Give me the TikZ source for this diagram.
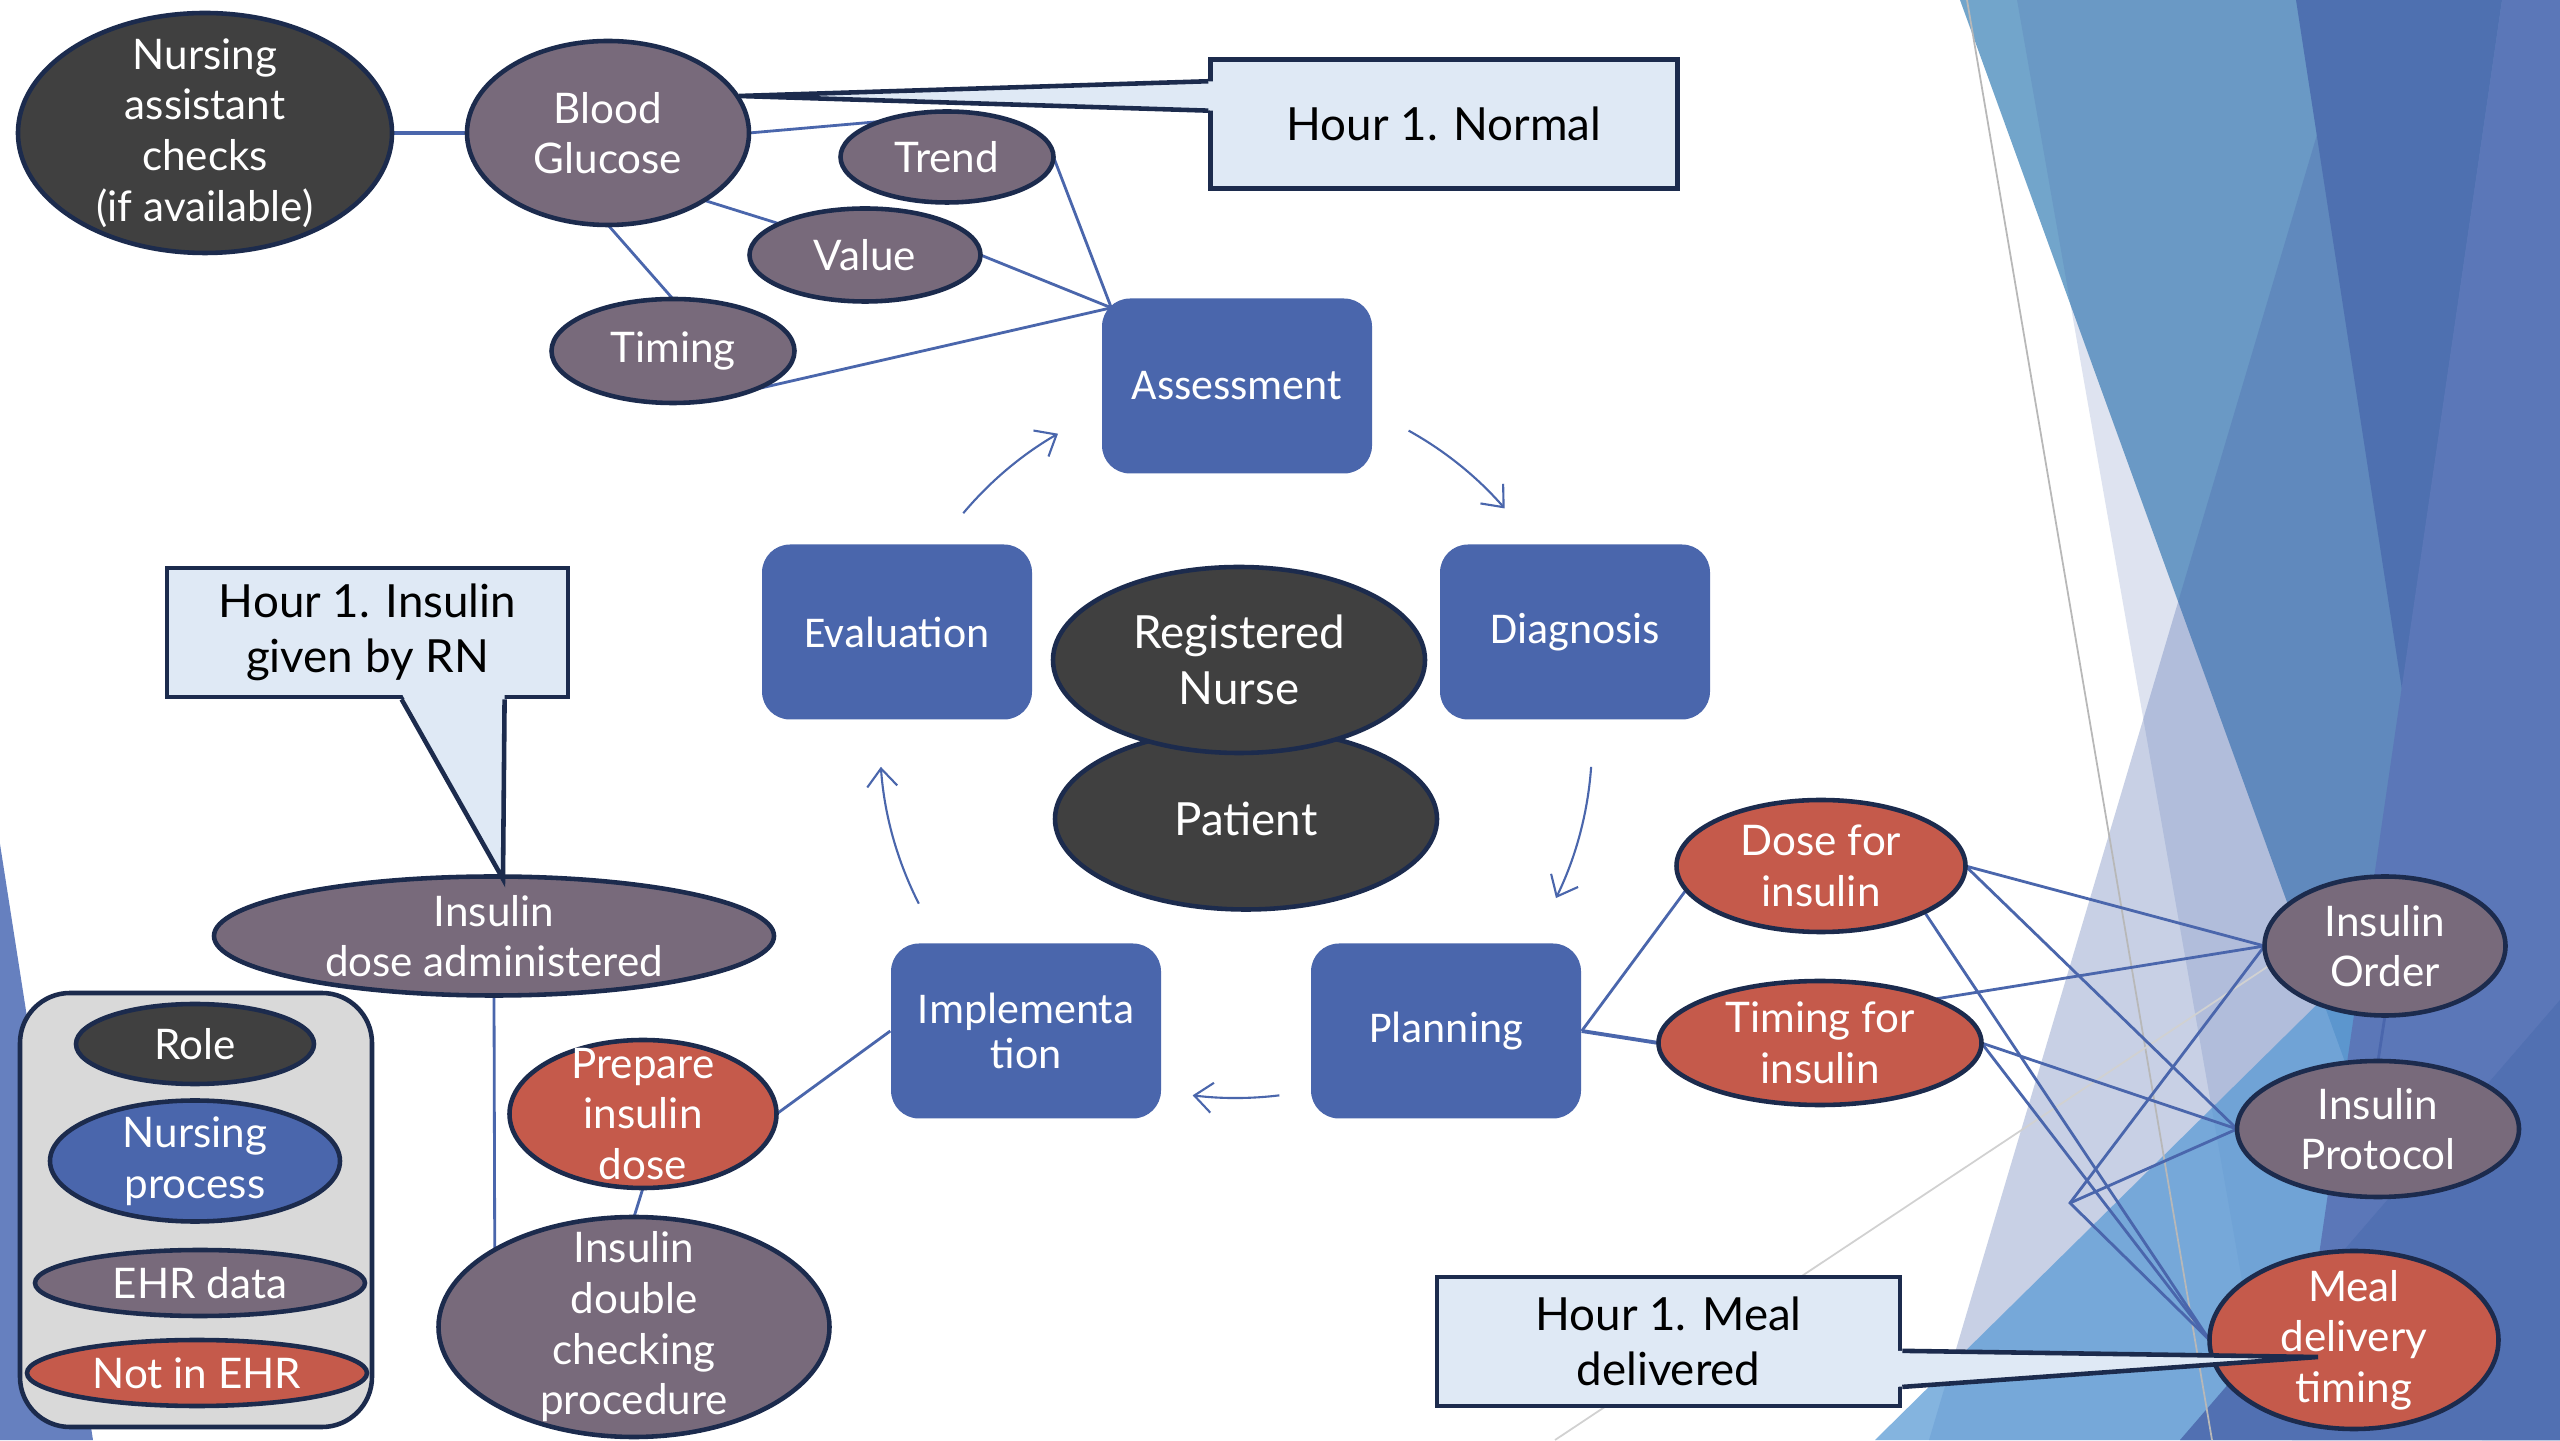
\documentclass[tikz,border=0pt]{standalone}
\usepackage{fontspec}
\setmainfont{Lato}
\newfontfamily\boxfont{Carlito}
\usetikzlibrary{arrows.meta,positioning,calc,shapes.geometric}
\definecolor{navy}{HTML}{1C2B4D}
\definecolor{procblue}{HTML}{4A66AC}
\definecolor{rolegray}{HTML}{404040}
\definecolor{ehrmauve}{HTML}{786A7B}
\definecolor{notred}{HTML}{C55A4B}
\definecolor{calfill}{HTML}{DFE9F5}
\definecolor{legfill}{HTML}{D9D9D9}
\definecolor{facetsteel}{HTML}{72A5CB}
\definecolor{facetdark}{HTML}{4E70B0}
\definecolor{facetmid}{HTML}{5B77B8}
\definecolor{facetsky}{HTML}{5B9BD5}
\definecolor{facetdeep}{HTML}{5170B2}
\definecolor{facetleft}{HTML}{6680BF}
\pgfdeclarelayer{deco}
\pgfdeclarelayer{links}
\pgfsetlayers{deco,links,main}

\begin{document}
\begin{tikzpicture}[>={Straight Barb[length=1.8mm,width=3mm]},
  blob/.style={ellipse,draw=navy,line width=1.3pt,text=white,align=center,inner sep=-1.5cm,outer sep=0pt,font=\fontsize{12}{14.4}\selectfont},
  sz/.style 2 args={minimum width=#1cm,minimum height=#2cm},
  role/.style={blob,fill=rolegray},
  ehr/.style={blob,fill=ehrmauve},
  noehr/.style={blob,fill=notred},
  nproc/.style={blob,fill=procblue},
  bigtext/.style={font=\fontsize{13}{15.8}\selectfont},
  stage/.style={rectangle,rounded corners=0.28cm,fill=procblue,text=white,align=center,minimum width=2.7cm,minimum height=1.75cm,font=\boxfont\fontsize{12.5}{13}\selectfont},
  calbox/.style={rectangle,fill=calfill,draw=navy,line width=1.3pt,align=center,minimum height=1.29cm,font=\fontsize{13}{15.8}\selectfont},
  pointer/.style={draw=navy,line width=1.3pt,line join=miter},
  link/.style={draw=procblue,line width=0.8pt},
  cyclearrow/.style={draw=procblue,line width=0.6pt,->},
]
\useasboundingbox (0,0) rectangle (25.6,14.4);

% slide background
\begin{pgfonlayer}{deco}
\fill[white] (0,0) rectangle (25.6,14.4);
\fill[facetleft] (0,5.96) -- (0.93,0) -- (0,0) -- cycle;
\fill[facetsteel] (19.60,14.4) -- (25.6,14.4) -- (25.6,0) -- (24.82,0) -- cycle;
\fill[procblue,opacity=0.18] (20.17,14.4) -- (25.6,14.4) -- (25.6,0) -- (22.70,0) -- cycle;
\fill[procblue,opacity=0.3] (23.57,14.4) -- (25.6,14.4) -- (25.6,0) -- (19.29,0) -- cycle;
\fill[facetdark] (22.96,14.4) -- (25.02,14.4) -- (24.02,7.5) -- cycle;
\fill[facetsky,opacity=0.75] (18.75,0) -- (25.6,6.75) -- (25.6,0) -- cycle;
\fill[facetmid] (25.02,14.4) -- (25.6,14.4) -- (25.6,0) -- (22.92,0) -- cycle;
\fill[facetdeep] (21.80,0) -- (25.6,4.4) -- (25.6,0) -- cycle;
\draw[black!28,line width=0.5pt] (19.67,14.4) -- (22.12,0);
\draw[black!18,line width=0.5pt] (15.55,0) -- (22.70,4.75);
\end{pgfonlayer}

% assessment data
\node[role,sz={3.74}{2.40}] (nac) at (2.05,13.07) {Nursing\\assistant\\checks\\(if available)};
\node[ehr,sz={2.82}{1.84}] (bg) at (6.08,13.07) {Blood\\Glucose};
\node[ehr,sz={2.13}{0.91}] (trend) at (9.47,12.83) {Trend};
\node[ehr,sz={2.31}{0.93}] (value) at (8.65,11.85) {Value};
\node[ehr,sz={2.43}{1.04}] (timing) at (6.73,10.89) {Timing};

% nursing process
\node[stage] (assess) at (12.37,10.54) {Assessment};
\node[stage] (diag) at (15.75,8.08) {Diagnosis};
\node[stage] (plan) at (14.46,4.09) {Planning};
\node[stage] (impl) at (10.26,4.09) {Implementa\\tion};
\node[stage] (eval) at (8.97,8.08) {Evaluation};
\coordinate (hub) at (12.36,6.98);

\node[role,bigtext,sz={3.82}{1.81}] (pat) at (12.46,6.21) {Patient};
\node[role,bigtext,sz={3.72}{1.86}] (rn) at (12.39,7.80) {Registered\\Nurse};

% planning data
\node[noehr,sz={2.89}{1.32}] (dose) at (18.21,5.74) {Dose for\\insulin};
\node[noehr,sz={3.23}{1.24}] (tfi) at (18.20,3.97) {Timing for\\insulin};
\node[ehr,sz={2.41}{1.39}] (order) at (23.85,4.94) {Insulin\\Order};
\node[ehr,sz={2.82}{1.36}] (proto) at (23.78,3.11) {Insulin\\Protocol};
\node[noehr,sz={2.89}{1.78}] (meal) at (23.54,1.00) {Meal\\delivery\\timing};
\coordinate (bend) at (20.70,2.37);

% implementation data
\node[ehr,sz={5.60}{1.19}] (ida) at (4.94,5.04) {Insulin\\dose administered};
\node[noehr,sz={2.67}{1.48}] (prep) at (6.43,3.26) {Prepare\\insulin\\dose};
\node[ehr,sz={3.91}{2.20}] (idc) at (6.34,1.13) {Insulin\\double\\checking\\procedure};

% legend
\node[draw=navy,line width=1.3pt,fill=legfill,rounded corners=0.5cm,minimum width=3.52cm,minimum height=4.34cm] (legend) at (1.96,2.30) {};
\node[role,sz={2.38}{0.80}] (lrole) at (1.95,3.96) {Role};
\node[nproc,sz={2.90}{1.21}] (lproc) at (1.95,2.79) {Nursing\\process};
\node[ehr,sz={3.30}{0.66}] (lehr) at (2.00,1.57) {EHR data};
\node[noehr,sz={3.40}{0.66}] (lnot) at (1.97,0.67) {Not in EHR};

\begin{pgfonlayer}{links}
\draw[link,line width=1.3pt] (nac.east) -- (bg.west);
\draw[link] (bg.east) -- (trend.152);
\draw[link] (bg.-35) -- (value.160);
\draw[link] (bg.south) -- (timing.north);
\draw[link] (trend.east) -- ([shift={(0.1,-0.1)}]assess.north west);
\draw[link] (value.east) -- ([shift={(0.1,-0.1)}]assess.north west);
\draw[link] (timing.-25) -- ([shift={(0.1,-0.1)}]assess.north west);
\draw[link] (plan.east) -- (dose.190);
\draw[link,line width=1.1pt] (plan.east) -- (tfi.west);
\draw[link] (impl.west) -- (prep.east);
\draw[link] (prep.south) -- (idc.north);
\draw[link] (ida.south) -- (idc.151);
\draw[link] (dose.east) -- (order.west);
\draw[link] (dose.east) -- (proto.west);
\draw[link] (dose.-24) -- (meal.west);
\draw[link] (tfi.21) -- (order.west);
\draw[link] (tfi.east) -- (proto.west);
\draw[link] (tfi.east) -- (meal.west);
\draw[link] (order.west) -- (bend) -- (meal.west);
\draw[link] (proto.west) -- (bend);
\draw[link] (order.south) -- (proto.north);
\end{pgfonlayer}

% cycle arrows
\foreach \a/\b in {140/120,61/41,-4/-26,-83/-97,-153/-176}
  \draw[cyclearrow] ([shift={(\a:3.56)}]hub) arc[start angle=\a,end angle=\b,radius=3.56];

% callouts
\node[calbox,minimum width=4.67cm] (hnorm) at (14.44,13.16) {Hour 1. Normal};
\coordinate (hnormtip) at (7.39,13.44);
\coordinate (hn1) at ($(hnorm.north west)!0.18!(hnorm.south west)$);
\coordinate (hn2) at ($(hnorm.north west)!0.40!(hnorm.south west)$);
\fill[calfill] (hnormtip) -- ([xshift=0.06cm]hn1) -- ([xshift=0.06cm]hn2) -- cycle;
\draw[pointer] (hn1) -- (hnormtip) -- (hn2);

\node[calbox,minimum width=4.01cm] (hrn) at (3.675,8.075) {Hour 1. Insulin\\given by RN};
\coordinate (hrntip) at (5.03,5.61);
\coordinate (hr1) at ($(hrn.south west)!0.584!(hrn.south east)$);
\coordinate (hr2) at ($(hrn.south west)!0.838!(hrn.south east)$);
\fill[calfill] (hrntip) -- ([yshift=0.06cm]hr1) -- ([yshift=0.06cm]hr2) -- cycle;
\draw[pointer] (hr1) -- (hrntip) -- (hr2);

\node[calbox,minimum width=4.63cm] (hmeal) at (16.685,0.985) {Hour 1. Meal\\delivered};
\coordinate (hmealtip) at (23.18,0.83);
\coordinate (hm1) at ($(hmeal.north east)!0.57!(hmeal.south east)$);
\coordinate (hm2) at ($(hmeal.north east)!0.84!(hmeal.south east)$);
\fill[calfill] (hmealtip) -- ([xshift=-0.06cm]hm1) -- ([xshift=-0.06cm]hm2) -- cycle;
\draw[pointer] (hm1) -- (hmealtip) -- (hm2);
\end{tikzpicture}
\end{document}
